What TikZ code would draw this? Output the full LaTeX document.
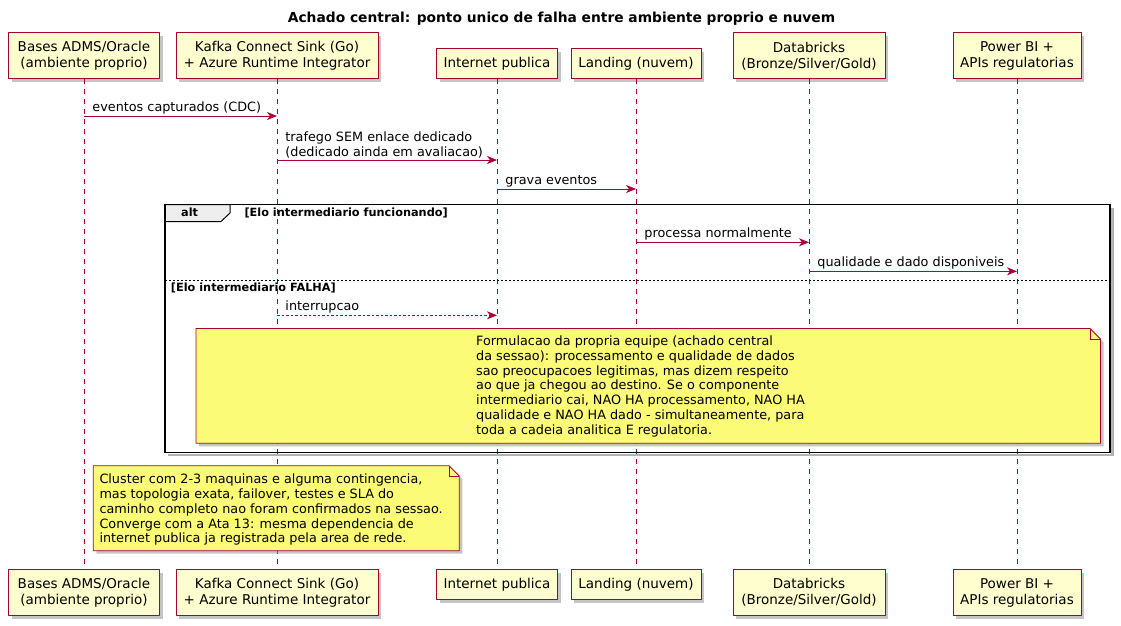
\documentclass[tikz,border=0pt]{standalone}
\usepackage{fontspec}
\setmainfont{DejaVu Sans}
\usepackage{tikz}
\usetikzlibrary{arrows.meta,shapes,positioning,shadows}
\usepackage{xcolor}
\definecolor{umlred}{RGB}{168,0,54}
\definecolor{umlbox}{RGB}{254,254,206}
\definecolor{umlnote}{RGB}{251,251,119}
\definecolor{umltab}{RGB}{238,238,238}
\newcommand{\partfont}{\fontsize{13.5}{16}\selectfont}
\newcommand{\msgfont}{\fontsize{12.8}{14.8}\selectfont}
\newcommand{\guardfont}{\fontsize{11.3}{13}\selectfont\bfseries}
\tikzstyle{part} = [draw=umlred, fill=umlbox, line width=1pt, align=center, inner sep=0pt, font=\partfont, drop shadow={shadow xshift=3pt, shadow yshift=-3pt, fill=black!45, opacity=0.5}]
\tikzstyle{life} = [umlred, line width=0.8pt, dash pattern=on 5pt off 5pt]
\tikzstyle{msg} = [-{Stealth[length=10pt,width=8pt,inset=3pt]}, line width=0.9pt, color=umlred]
\tikzstyle{lbl} = [pos=0, anchor=south west, inner sep=0pt, xshift=8pt, yshift=1.5pt, align=left, text=black, font=\msgfont]
\tikzstyle{guard} = [inner sep=0pt, anchor=base west, font=\guardfont]
\tikzstyle{note} = [draw=umlred, fill=umlnote, line width=0.8pt, drop shadow={shadow xshift=3pt, shadow yshift=-3pt, fill=black!45, opacity=0.5}]
\tikzstyle{notetext} = [inner sep=0pt, anchor=north west, align=left, font=\msgfont]

\begin{document}
\begin{tikzpicture}[x=1pt, y=-1pt]
\useasboundingbox (0,0) rectangle (1121,625);

% Title
\node[anchor=base, inner sep=0pt, font=\fontsize{13.8}{16}\selectfont\bfseries] (title) at (561.5,22.7) {Achado central: ponto unico de falha entre ambiente proprio e nuvem};

% Participants (top)
\node[part, minimum width=151pt, minimum height=46pt, anchor=south] (bases) at (84,79.3) {Bases ADMS/Oracle\\(ambiente proprio)};
\node[part, minimum width=202pt, minimum height=46pt, anchor=south] (kafka) at (277,79.3) {Kafka Connect Sink (Go)\\+ Azure Runtime Integrator};
\node[part, minimum width=121pt, minimum height=30pt, anchor=south] (inet) at (497,79.3) {Internet publica};
\node[part, minimum width=130pt, minimum height=30pt, anchor=south] (land) at (636,79.3) {Landing (nuvem)};
\node[part, minimum width=152pt, minimum height=46pt, anchor=south] (dbx) at (809,79.3) {Databricks\\(Bronze/Silver/Gold)};
\node[part, minimum width=128pt, minimum height=46pt, anchor=south] (pbi) at (1017,79.3) {Power BI +\\APIs regulatorias};

% Participants (bottom)
\node[part, minimum width=151pt, minimum height=46pt, anchor=north] (basesB) at (84,569) {Bases ADMS/Oracle\\(ambiente proprio)};
\node[part, minimum width=202pt, minimum height=46pt, anchor=north] (kafkaB) at (277,569) {Kafka Connect Sink (Go)\\+ Azure Runtime Integrator};
\node[part, minimum width=121pt, minimum height=30pt, anchor=north] (inetB) at (497,569) {Internet publica};
\node[part, minimum width=130pt, minimum height=30pt, anchor=north] (landB) at (636,569) {Landing (nuvem)};
\node[part, minimum width=152pt, minimum height=46pt, anchor=north] (dbxB) at (809,569) {Databricks\\(Bronze/Silver/Gold)};
\node[part, minimum width=128pt, minimum height=46pt, anchor=north] (pbiB) at (1017,569) {Power BI +\\APIs regulatorias};

% Lifelines
\draw[life] (bases.south) -- (basesB.north);
\draw[life] (kafka.south) -- (kafkaB.north);
\draw[life] (inet.south) -- (inetB.north);
\draw[life] (land.south) -- (landB.north);
\draw[life] (dbx.south) -- (dbxB.north);
\draw[life] (pbi.south) -- (pbiB.north);

% Messages before the alt block
\draw[msg] (bases |- 0,116) -- node[lbl] {eventos capturados (CDC)} (kafka |- 0,116);
\draw[msg] (kafka |- 0,160) -- node[lbl] {trafego SEM enlace dedicado\\(dedicado ainda em avaliacao)} (inet |- 0,160);
\draw[msg] (inet |- 0,189) -- node[lbl] {grava eventos} (land |- 0,189);

% alt frame
\draw[line width=2.5pt, black!30] (1112.5,208) -- (1112.5,455) -- (168,455);
\draw[fill=umltab, line width=1pt] (165,204.5) -- (230,204.5) -- (230,213) -- (221,221.5) -- (165,221.5);
\draw[line width=1.5pt] (165,204.5) rectangle (1110,452.5);
\node[guard] (alt) at (181,216.7) {alt};
\node[guard] (gok) at (244.3,216.7) {[Elo intermediario funcionando]};
\draw[msg] (land |- 0,242.3) -- node[lbl] {processa normalmente} (dbx |- 0,242.3);
\draw[msg] (dbx |- 0,271.3) -- node[lbl] {qualidade e dado disponiveis} (pbi |- 0,271.3);
\draw[line width=0.8pt, dash pattern=on 2pt off 2pt] (165,280) -- (1110,280);
\node[guard] (gfail) at (170.7,291) {[Elo intermediario FALHA]};
\draw[msg, dash pattern=on 2.5pt off 2pt] (kafka |- 0,315.3) -- node[lbl] {interrupcao} (inet |- 0,315.3);

% Note inside alt
\draw[note] (196,328.5) -- (1090,328.5) -- (1100.5,339) -- (1100.5,443.3) -- (196,443.3) -- cycle;
\draw[umlred, line width=0.8pt] (1090,328.5) -- (1090,339) -- (1100.5,339);
\node[notetext] (nfail) at (476,335.5) {Formulacao da propria equipe (achado central\\
da sessao): processamento e qualidade de dados\\
sao preocupacoes legitimas, mas dizem respeito\\
ao que ja chegou ao destino. Se o componente\\
intermediario cai, NAO HA processamento, NAO HA\\
qualidade e NAO HA dado - simultaneamente, para\\
toda a cadeia analitica E regulatoria.};

% Note below
\draw[note] (93.3,465.7) -- (449,465.7) -- (459.3,476) -- (459.3,550.7) -- (93.3,550.7) -- cycle;
\draw[umlred, line width=0.8pt] (449,465.7) -- (449,476) -- (459.3,476);
\node[notetext] (ncluster) at (99.3,473.8) {Cluster com 2-3 maquinas e alguma contingencia,\\
mas topologia exata, failover, testes e SLA do\\
caminho completo nao foram confirmados na sessao.\\
Converge com a Ata 13: mesma dependencia de\\
internet publica ja registrada pela area de rede.};
\end{tikzpicture}
\end{document}
